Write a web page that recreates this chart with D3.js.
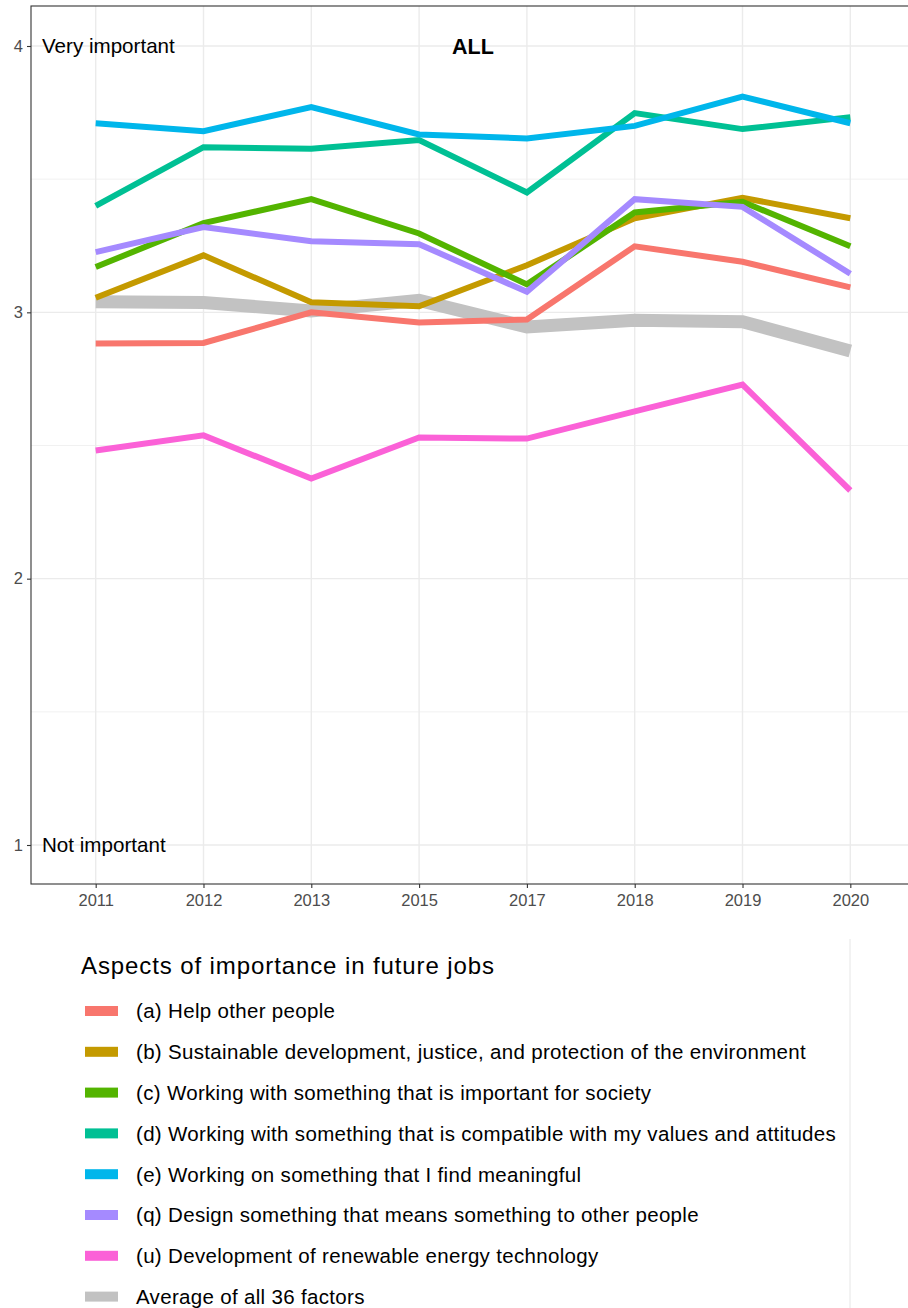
<!DOCTYPE html>
<html>
<head>
<meta charset="utf-8">
<script src="https://cdn.jsdelivr.net/npm/d3@7"></script>
<style>
body{margin:0;background:#fff;}
svg text{font-family:"Liberation Sans",Arial,Helvetica,sans-serif;}
</style>
</head>
<body>
<svg id="main" width="908" height="1308"></svg>
<script>
var years=['2011','2012','2013','2015','2017','2018','2019','2020'];
var helpOthers=[2.883,2.885,3.0,2.962,2.973,3.248,3.19,3.094];
var sustainable=[3.055,3.214,3.038,3.023,3.177,3.353,3.43,3.353];
var importantSociety=[3.17,3.335,3.425,3.296,3.105,3.375,3.415,3.248];
var compatibleValues=[3.40,3.62,3.614,3.647,3.45,3.748,3.688,3.733];
var meaningful=[3.71,3.68,3.771,3.668,3.653,3.70,3.81,3.71];
var designMeans=[3.226,3.32,3.267,3.256,3.077,3.425,3.396,3.145];
var renewable=[2.481,2.538,2.376,2.53,2.526,2.628,2.729,2.331];
var average=[3.04,3.037,3.005,3.045,2.945,2.97,2.965,2.855];
var yTicks=[1,2,3,4];
var labels=['(a) Help other people',
  '(b) Sustainable development, justice, and protection of the environment',
  '(c) Working with something that is important for society',
  '(d) Working with something that is compatible with my values and attitudes',
  '(e) Working on something that I find meaningful',
  '(q) Design something that means something to other people',
  '(u) Development of renewable energy technology',
  'Average of all 36 factors'];
var colors=['#F8766D','#C49A00','#53B400','#00C094','#00B6EB','#A58AFF','#FB61D7','#C2C2C2'];

var series=[helpOthers,sustainable,importantSociety,compatibleValues,meaningful,designMeans,renewable,average];

var svg=d3.select('#main');
var pLeft=31,pRight=915,pTop=6,pBottom=884;

var x=d3.scalePoint().domain(years).range([pLeft,pRight]).padding(0.6);
var y=d3.scaleLinear().domain([1,4]).range([845,46]);

//panel + grid
var grid=svg.append('g');
grid.selectAll('.minor').data([1.5,2.5,3.5]).enter().append('line')
  .attr('x1',pLeft).attr('x2',pRight)
  .attr('y1',d=>y(d)).attr('y2',d=>y(d))
  .attr('stroke','#ebebeb').attr('stroke-width',0.7);
grid.selectAll('.major').data(yTicks).enter().append('line')
  .attr('x1',pLeft).attr('x2',pRight)
  .attr('y1',d=>y(d)).attr('y2',d=>y(d))
  .attr('stroke','#ebebeb').attr('stroke-width',1.4);
grid.selectAll('.vert').data(years).enter().append('line')
  .attr('x1',d=>x(d)).attr('x2',d=>x(d))
  .attr('y1',pTop).attr('y2',pBottom)
  .attr('stroke','#ebebeb').attr('stroke-width',1.4);

// lines - average first so it sits underneath
var line=d3.line().x((d,i)=>x(years[i])).y(d=>y(d));
var order=[7,0,1,2,3,4,5,6];
svg.append('g').selectAll('path').data(order).enter().append('path')
  .attr('d',i=>line(series[i]))
  .attr('fill','none')
  .attr('stroke',i=>colors[i])
  .attr('stroke-width',i=>i==7?13:6)
  .attr('stroke-linejoin','miter');

svg.append('rect')
  .attr('x',pLeft).attr('y',pTop)
  .attr('width',pRight-pLeft).attr('height',pBottom-pTop)
  .attr('fill','none').attr('stroke','#333').attr('stroke-width',1.1);

// axes
var xAxis=d3.axisBottom(x).tickSize(4).tickPadding(6);
var gx=svg.append('g').attr('transform',`translate(0,${pBottom})`).call(xAxis);
gx.select('.domain').remove();
gx.selectAll('line').attr('stroke','#333').attr('stroke-width',1.1);
gx.selectAll('text').attr('fill','#4d4d4d').style('font-size','16.5px');

var yAxis=d3.axisLeft(y).tickValues(yTicks).tickSize(4).tickPadding(4).tickFormat(d3.format('d'));
var gy=svg.append('g').attr('transform',`translate(${pLeft},0)`).call(yAxis);
gy.select('.domain').remove();
gy.selectAll('line').attr('stroke','#333').attr('stroke-width',1.1);
gy.selectAll('text').attr('fill','#4d4d4d').style('font-size','16.5px');

// annotations
svg.append('text').attr('x',42).attr('y',y(4)).attr('dy','0.36em')
  .style('font-size','20.6px').text('Very important');
svg.append('text').attr('x',42).attr('y',y(1)).attr('dy','0.36em')
  .style('font-size','20.6px').text('Not important');
svg.append('text').attr('x',473).attr('y',y(4)).attr('dy','0.36em')
  .attr('text-anchor','middle').style('font-size','21.5px').style('font-weight','bold').text('ALL');

// legend
var leg=svg.append('g');
leg.append('line').attr('x1',850).attr('x2',850).attr('y1',939).attr('y2',1308)
  .attr('stroke','#e6e6e6').attr('stroke-width',1);
leg.append('text').attr('x',81).attr('y',974).style('font-size','24px')
  .style('letter-spacing','0.9px')
  .text('Aspects of importance in future jobs');
var rows=leg.selectAll('.row').data(labels).enter().append('g')
  .attr('transform',(d,i)=>`translate(0,${1011+i*40.8})`);
rows.append('rect').attr('x',85).attr('y',-5).attr('width',33).attr('height',10)
  .attr('fill',(d,i)=>colors[i]);
rows.append('text').attr('x',136).attr('dy','0.36em').style('font-size','20.5px')
  .style('letter-spacing','0.32px')
  .text(d=>d);
</script>
</body>
</html>
